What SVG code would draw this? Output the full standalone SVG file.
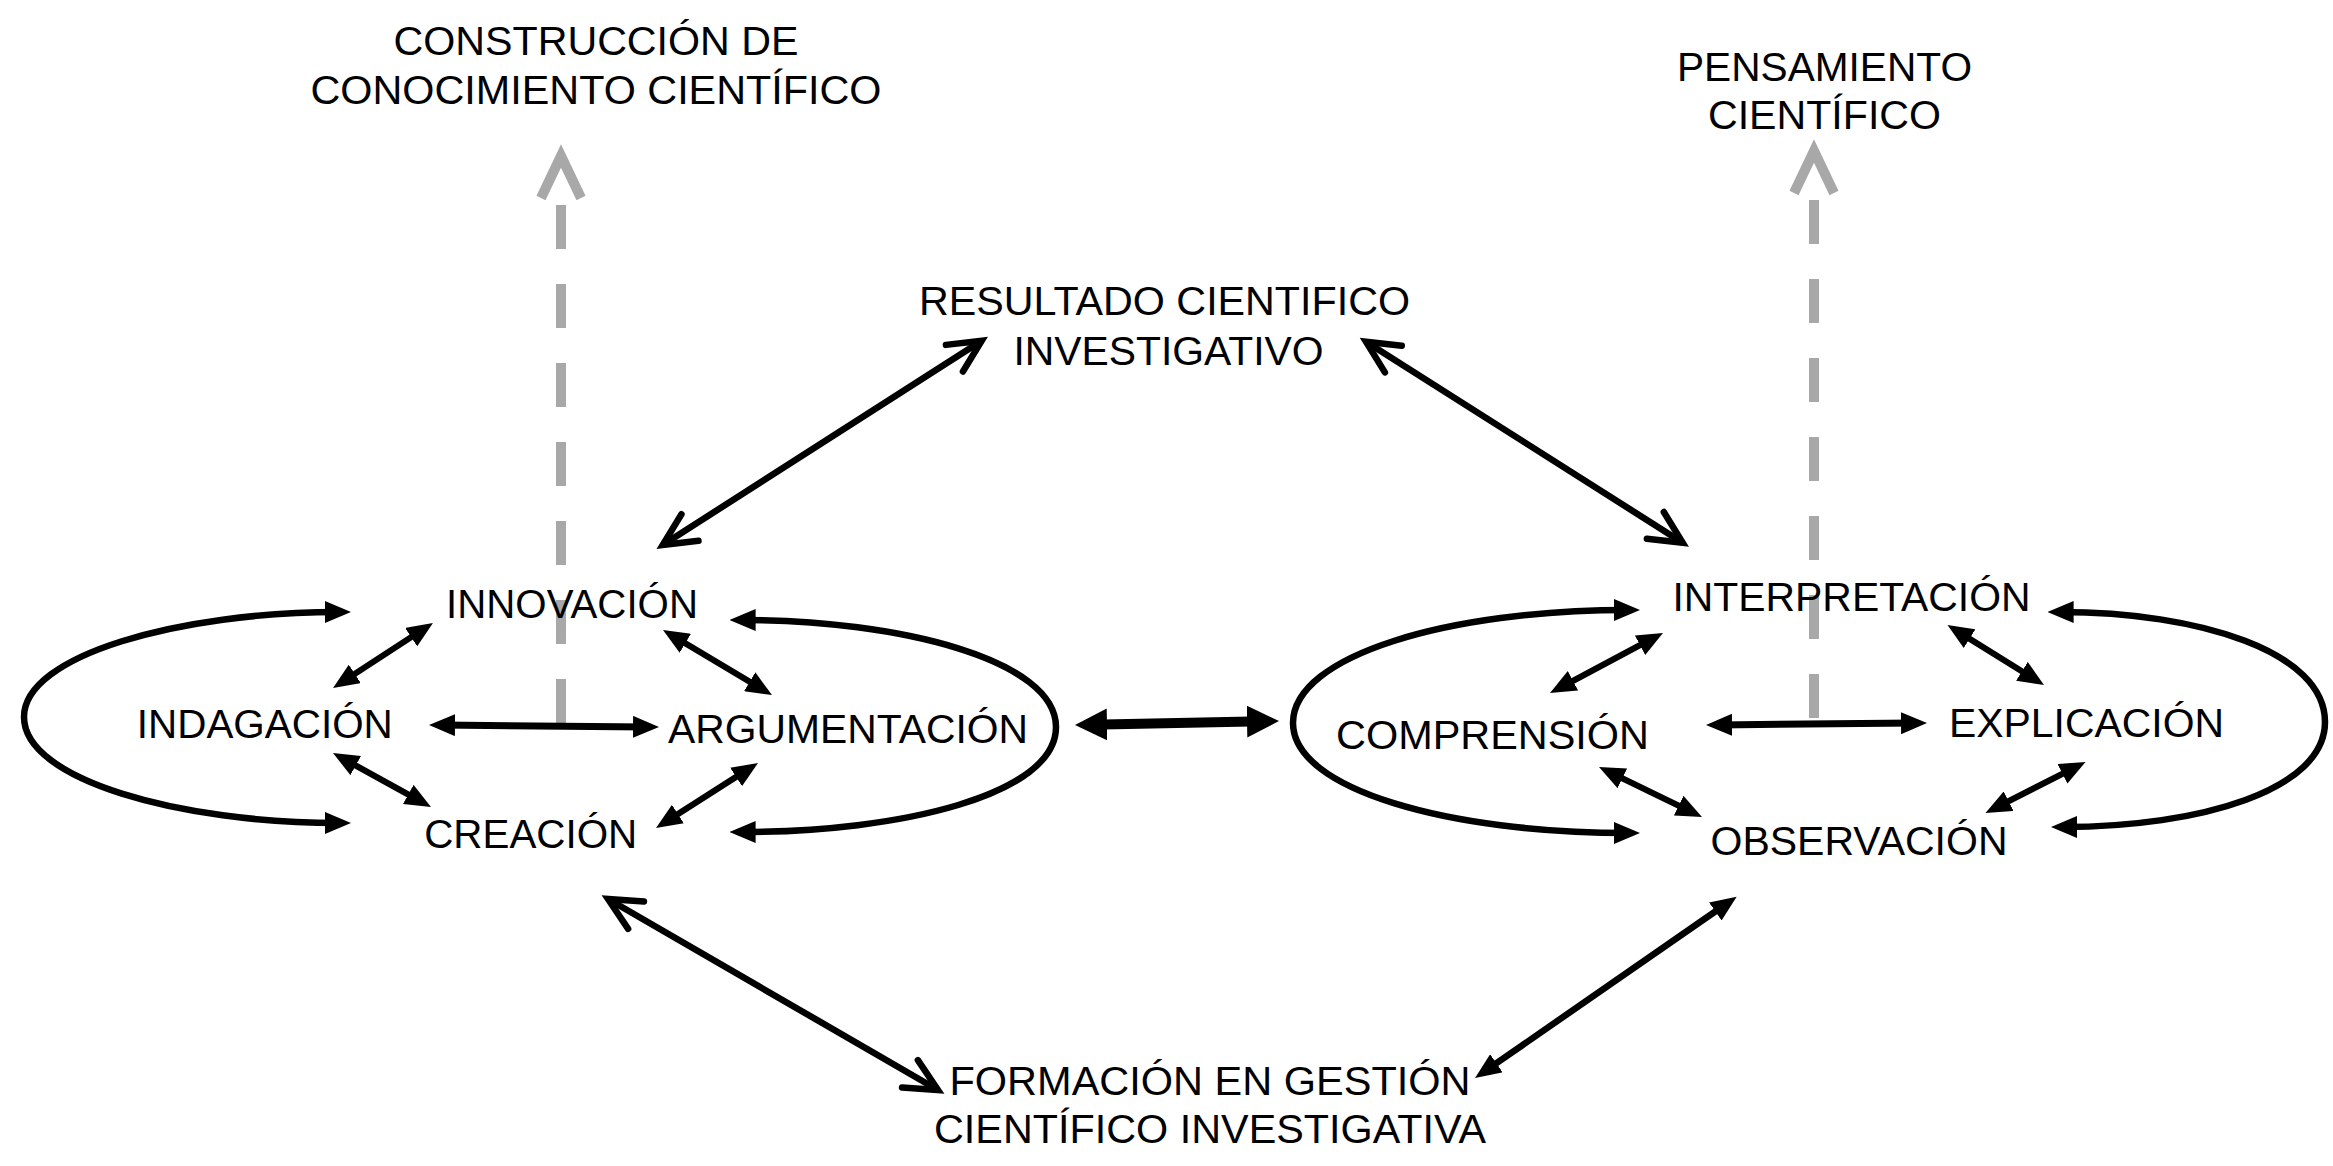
<svg xmlns="http://www.w3.org/2000/svg" width="2333" height="1166" viewBox="0 0 2333 1166">
<style>
  text { font-family: "Liberation Sans", Arial, Helvetica, sans-serif; font-size: 41px; fill: #000; text-anchor: middle; }
  .ln { fill: none; stroke: #000; stroke-linecap: butt; }
  .thin { stroke-width: 6.2; marker-start: url(#tri); marker-end: url(#tri); }
  .hor { stroke-width: 7; marker-start: url(#tri); marker-end: url(#tri); }
  .loop { stroke-width: 6.5; marker-start: url(#tri); marker-end: url(#tri); }
  .big { stroke-width: 6.5; marker-start: url(#chev); marker-end: url(#chev); }
  .bigtri { stroke-width: 6.5; marker-start: url(#tri); marker-end: url(#tri); }
  .mid { stroke-width: 10; marker-start: url(#triBig); marker-end: url(#triBig); }
  .gray { fill: none; stroke: #a8a8a8; stroke-width: 10; }
  .dash { stroke-dasharray: 44 35; }
</style>
<defs>
  <marker id="tri" viewBox="0 0 26 22" markerWidth="26" markerHeight="22" refX="14" refY="11" markerUnits="userSpaceOnUse" orient="auto-start-reverse">
    <path d="M0,0 L26,11 L0,22 Z" fill="#000"/>
  </marker>
  <marker id="triBig" viewBox="0 0 32 32" markerWidth="32" markerHeight="32" refX="16" refY="16" markerUnits="userSpaceOnUse" orient="auto-start-reverse">
    <path d="M0,0 L32,16 L0,32 Z" fill="#000"/>
  </marker>
  <marker id="chev" viewBox="0 0 40 40" markerWidth="40" markerHeight="40" refX="36" refY="20" markerUnits="userSpaceOnUse" orient="auto-start-reverse" overflow="visible">
    <polyline points="3.6,4.2 36,20 3.6,35.8" fill="none" stroke="#000" stroke-width="6.5" stroke-linecap="round" stroke-linejoin="miter"/>
  </marker>
</defs>
<rect width="2333" height="1166" fill="#fff"/>

<g id="connectors">
  <!-- gray dashed upward arrows -->
  <path class="gray dash" d="M561,723 V205"/>
  <polyline class="gray" points="541,198 561,156 581,198"/>
  <path class="gray dash" d="M1814,718 V200"/>
  <polyline class="gray" points="1794,193 1814,151 1834,193"/>

  <!-- left cluster loops -->
  <path class="ln loop" d="M339,612 C180,612 24,655 24,717 C24,780 180,823 339,823"/>
  <path class="ln loop" d="M741.6,620 C900,620 1056,660 1056,727 C1056,795 900,832 741.6,832"/>
  <!-- left cluster inner arrows -->
  <path class="ln thin" d="M343.1,681.5 L422.9,629.5"/>
  <path class="ln thin" d="M673.3,636.1 L761.7,688.9"/>
  <path class="ln hor" d="M441,725 L647,727"/>
  <path class="ln thin" d="M343.5,758.8 L420.5,801.2"/>
  <path class="ln thin" d="M666.1,821.6 L747.9,769.4"/>

  <!-- middle link -->
  <path class="ln mid" d="M1091,724.7 L1263,721.3"/>

  <!-- right cluster loops -->
  <path class="ln loop" d="M1628,610 C1450,610 1293,655 1293,723 C1293,790 1450,833 1628,833"/>
  <path class="ln loop" d="M2059.6,612 C2200,612 2325,652 2325,722 C2325,790 2200,827 2063,827"/>
  <!-- right cluster inner arrows -->
  <path class="ln thin" d="M1560.6,687.4 L1652.4,638.6"/>
  <path class="ln thin" d="M1957.7,631.3 L2033.8,678.7"/>
  <path class="ln hor" d="M1718,724.9 L1915,723.1"/>
  <path class="ln thin" d="M1609.8,772.2 L1691.2,811.8"/>
  <path class="ln thin" d="M1996.2,807.6 L2074.9,767.4"/>

  <!-- long arrows -->
  <path class="ln big" d="M662.7,545 L981.7,340.7"/>
  <path class="ln big" d="M1366,341.7 L1682.7,542.7"/>
  <path class="ln big" d="M608,899 L938,1090"/>
  <path class="ln bigtri" d="M1726.8,903.5 L1484.9,1071.2"/>
</g>

<g id="n-construccion">
  <text x="596" y="55" textLength="405" lengthAdjust="spacingAndGlyphs">CONSTRUCCIÓN DE</text>
  <text x="596" y="104" textLength="571" lengthAdjust="spacingAndGlyphs">CONOCIMIENTO CIENTÍFICO</text>
</g>
<g id="n-pensamiento">
  <text x="1824.5" y="81" textLength="295" lengthAdjust="spacingAndGlyphs">PENSAMIENTO</text>
  <text x="1824.5" y="129" textLength="233" lengthAdjust="spacingAndGlyphs">CIENTÍFICO</text>
</g>
<g id="n-resultado">
  <text x="1164.5" y="315" textLength="491" lengthAdjust="spacingAndGlyphs">RESULTADO CIENTIFICO</text>
  <text x="1168.5" y="365" textLength="310" lengthAdjust="spacingAndGlyphs">INVESTIGATIVO</text>
</g>
<g id="n-innovacion">
  <text x="572" y="618" textLength="252" lengthAdjust="spacingAndGlyphs">INNOVACIÓN</text>
</g>
<g id="n-indagacion">
  <text x="264.8" y="738" textLength="256" lengthAdjust="spacingAndGlyphs">INDAGACIÓN</text>
</g>
<g id="n-argumentacion">
  <text x="848" y="743" textLength="360" lengthAdjust="spacingAndGlyphs">ARGUMENTACIÓN</text>
</g>
<g id="n-creacion">
  <text x="530.7" y="848" textLength="213" lengthAdjust="spacingAndGlyphs">CREACIÓN</text>
</g>
<g id="n-interpretacion">
  <text x="1851.5" y="611" textLength="358" lengthAdjust="spacingAndGlyphs">INTERPRETACIÓN</text>
</g>
<g id="n-comprension">
  <text x="1492.5" y="749" textLength="313" lengthAdjust="spacingAndGlyphs">COMPRENSIÓN</text>
</g>
<g id="n-explicacion">
  <text x="2086.5" y="737" textLength="275" lengthAdjust="spacingAndGlyphs">EXPLICACIÓN</text>
</g>
<g id="n-observacion">
  <text x="1859" y="855" textLength="297" lengthAdjust="spacingAndGlyphs">OBSERVACIÓN</text>
</g>
<g id="n-formacion">
  <text x="1210" y="1095" textLength="521" lengthAdjust="spacingAndGlyphs">FORMACIÓN EN GESTIÓN</text>
  <text x="1210" y="1143" textLength="552" lengthAdjust="spacingAndGlyphs">CIENTÍFICO INVESTIGATIVA</text>
</g>
</svg>
